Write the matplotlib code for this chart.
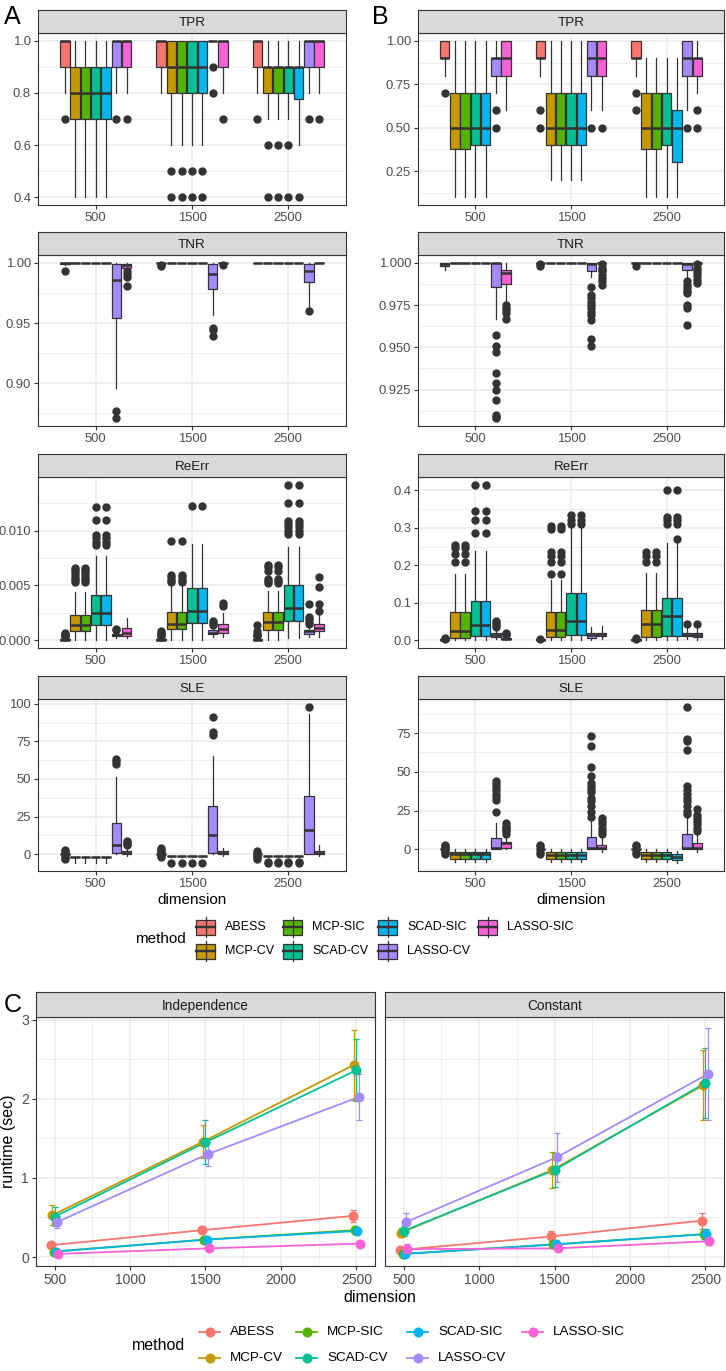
import numpy as np
import matplotlib
matplotlib.use("Agg")
import matplotlib.pyplot as plt
from matplotlib.patches import Rectangle
from matplotlib.lines import Line2D

plt.rcParams['font.family'] = ['Liberation Sans', 'DejaVu Sans']

W, H = 726, 1371

METHODS = ['ABESS', 'MCP-CV', 'MCP-SIC', 'SCAD-CV', 'SCAD-SIC', 'LASSO-CV', 'LASSO-SIC']
COLORS = ['#F8766D', '#C49A00', '#53B400', '#00C094', '#00B6EB', '#A58AFF', '#FB61D7']
DIMS = ['500', '1500', '2500']

# box stats: (whisker low, q1, median, q3, whisker high), per dimension, per method
A_TPR = [
    [(0.8, 0.9, 1.0, 1.0, 1.0), (0.4, 0.7, 0.8, 0.9, 1.0), (0.4, 0.7, 0.8, 0.9, 1.0), (0.4, 0.7, 0.8, 0.9, 1.0),
     (0.4, 0.7, 0.8, 0.9, 1.0), (0.8, 0.9, 1.0, 1.0, 1.0), (0.8, 0.9, 1.0, 1.0, 1.0)],
    [(0.8, 0.9, 1.0, 1.0, 1.0), (0.6, 0.8, 0.9, 1.0, 1.0), (0.6, 0.8, 0.9, 1.0, 1.0), (0.6, 0.8, 0.9, 1.0, 1.0),
     (0.6, 0.8, 0.9, 1.0, 1.0), (1.0, 1.0, 1.0, 1.0, 1.0), (0.8, 0.9, 1.0, 1.0, 1.0)],
    [(0.8, 0.9, 1.0, 1.0, 1.0), (0.7, 0.8, 0.9, 0.9, 1.0), (0.7, 0.8, 0.9, 0.9, 1.0), (0.7, 0.8, 0.9, 0.9, 1.0),
     (0.6, 0.775, 0.9, 0.9, 1.0), (0.8, 0.9, 1.0, 1.0, 1.0), (0.8, 0.9, 1.0, 1.0, 1.0)],
]
A_TPR_OUT = [
    [[0.7], [], [], [], [], [0.7], [0.7]],
    [[], [0.5, 0.4], [0.5, 0.4], [0.5, 0.4], [0.5, 0.4], [0.9, 0.8], [0.7]],
    [[0.7], [0.6, 0.4], [0.6, 0.4], [0.6, 0.4], [0.4], [0.7], [0.7]],
]

B_TPR = [
    [(0.8, 0.9, 0.9, 1.0, 1.0), (0.1, 0.375, 0.5, 0.7, 1.0), (0.1, 0.375, 0.5, 0.7, 1.0), (0.1, 0.4, 0.5, 0.7, 1.0),
     (0.1, 0.4, 0.5, 0.7, 1.0), (0.7, 0.8, 0.9, 0.9, 1.0), (0.6, 0.8, 0.9, 1.0, 1.0)],
    [(0.8, 0.9, 0.9, 1.0, 1.0), (0.2, 0.4, 0.5, 0.7, 1.0), (0.2, 0.4, 0.5, 0.7, 1.0), (0.2, 0.4, 0.5, 0.7, 1.0),
     (0.2, 0.4, 0.5, 0.7, 1.0), (0.6, 0.8, 0.9, 1.0, 1.0), (0.6, 0.8, 0.9, 1.0, 1.0)],
    [(0.8, 0.9, 0.9, 1.0, 1.0), (0.1, 0.375, 0.5, 0.7, 0.9), (0.1, 0.375, 0.5, 0.7, 0.9), (0.1, 0.4, 0.5, 0.7, 0.9),
     (0.1, 0.3, 0.5, 0.6, 0.9), (0.6, 0.8, 0.9, 1.0, 1.0), (0.7, 0.8, 0.9, 0.9, 1.0)],
]
B_TPR_OUT = [
    [[0.7], [], [], [], [], [0.6, 0.5], []],
    [[0.6, 0.5], [], [], [], [], [0.5], [0.5]],
    [[0.7, 0.6], [], [], [], [], [0.5], [0.6, 0.5]],
]

FLAT1 = (1.0, 1.0, 1.0, 1.0, 1.0)
A_TNR = [
    [(0.998, 0.999, 1.0, 1.0, 1.0), FLAT1, FLAT1, FLAT1, FLAT1,
     (0.896, 0.954, 0.986, 0.999, 1.0), (0.995, 0.996, 0.998, 0.999, 1.0)],
    [FLAT1, FLAT1, FLAT1, FLAT1, FLAT1, (0.957, 0.978, 0.991, 0.999, 1.0), FLAT1],
    [FLAT1, FLAT1, FLAT1, FLAT1, FLAT1, (0.963, 0.984, 0.993, 0.999, 1.0), FLAT1],
]
A_TNR_OUT = [
    [[0.993], [], [], [], [], [0.877, 0.871], [0.993, 0.9905, 0.988, 0.981]],
    [[0.998, 0.997], [], [], [], [], [0.946, 0.944, 0.939], [0.998]],
    [[], [], [], [], [], [0.960], []],
]

B_TNR = [
    [(0.996, 0.998, 0.999, 1.0, 1.0), FLAT1, FLAT1, FLAT1, FLAT1,
     (0.967, 0.9855, 1.0, 1.0, 1.0), (0.977, 0.9876, 0.9938, 0.9957, 1.0)],
    [FLAT1, FLAT1, FLAT1, FLAT1, FLAT1, (0.9915, 0.995, 0.9992, 1.0, 1.0), FLAT1],
    [FLAT1, FLAT1, FLAT1, FLAT1, FLAT1, (0.991, 0.996, 0.9995, 1.0, 1.0), FLAT1],
]
B_TNR_OUT = [
    [[], [], [], [], [],
     [0.957, 0.951, 0.947, 0.935, 0.929, 0.925, 0.919, 0.910, 0.909, 0.908],
     [0.975, 0.973, 0.972, 0.970, 0.967]],
    [[0.999, 0.998], [], [], [], [],
     [0.9855, 0.981, 0.979, 0.977, 0.975, 0.973, 0.971, 0.969, 0.966, 0.955, 0.951],
     [0.999, 0.997, 0.996, 0.995, 0.993, 0.991, 0.989, 0.987]],
    [[0.998], [], [], [], [],
     [0.989, 0.987, 0.985, 0.983, 0.982, 0.975, 0.973, 0.963],
     [0.999, 0.997, 0.996, 0.994, 0.992, 0.990, 0.988]],
]

A_REERR = [
    [(0, 0, 0.00005, 0.0001, 0.0002), (0, 0.0008, 0.0014, 0.0023, 0.0044), (0, 0.0008, 0.0014, 0.0023, 0.0044),
     (0, 0.0014, 0.0025, 0.0041, 0.0077), (0, 0.0014, 0.0025, 0.0041, 0.0077),
     (0.0002, 0.0004, 0.0005, 0.0006, 0.0008), (0.0002, 0.0004, 0.0007, 0.0011, 0.0020)],
    [(0, 0, 0.00005, 0.0001, 0.0002), (0, 0.0010, 0.0015, 0.0026, 0.0050), (0, 0.0010, 0.0015, 0.0026, 0.0050),
     (0, 0.0016, 0.0027, 0.0048, 0.0088), (0, 0.0016, 0.0027, 0.0048, 0.0088),
     (0.0003, 0.0006, 0.0007, 0.0009, 0.0012), (0.0003, 0.0007, 0.0010, 0.0015, 0.0025)],
    [(0, 0, 0.00005, 0.0001, 0.0002), (0, 0.0009, 0.0017, 0.0026, 0.0045), (0, 0.0009, 0.0017, 0.0026, 0.0045),
     (0.0002, 0.0018, 0.0029, 0.0050, 0.0085), (0.0002, 0.0018, 0.0029, 0.0050, 0.0085),
     (0.0003, 0.0006, 0.0008, 0.0009, 0.0013), (0.0003, 0.0008, 0.0011, 0.0015, 0.0024)],
]
A_REERR_OUT = [
    [[0.0003, 0.0004, 0.0005, 0.0006, 0.0007],
     [0.0053, 0.0055, 0.0057, 0.0060, 0.0062, 0.0064, 0.0066],
     [0.0053, 0.0055, 0.0057, 0.0060, 0.0062, 0.0064, 0.0066],
     [0.0087, 0.0090, 0.0093, 0.0096, 0.0110, 0.0122],
     [0.0087, 0.0090, 0.0093, 0.0096, 0.0110, 0.0122],
     [0.0009, 0.0010], []],
    [[0.0003, 0.0005, 0.0006, 0.0007, 0.0008],
     [0.0053, 0.0055, 0.0058, 0.0060, 0.0091],
     [0.0053, 0.0055, 0.0058, 0.0060, 0.0091],
     [0.0123], [0.0123],
     [0.0014, 0.0016, 0.0018], [0.0031, 0.0034]],
    [[0.0004, 0.0005, 0.0006, 0.0008, 0.0014],
     [0.0052, 0.0054, 0.0056, 0.0063, 0.0067, 0.0069],
     [0.0052, 0.0054, 0.0056, 0.0063, 0.0067, 0.0069],
     [0.0097, 0.0100, 0.0103, 0.0106, 0.0109, 0.0125, 0.0142],
     [0.0097, 0.0100, 0.0103, 0.0106, 0.0109, 0.0125, 0.0142],
     [0.0015, 0.0017, 0.0019, 0.0021, 0.0033], [0.0027, 0.0033, 0.0049, 0.0058]],
]

B_REERR = [
    [(0, 0, 0.001, 0.002, 0.003), (0, 0.005, 0.025, 0.076, 0.177), (0, 0.005, 0.025, 0.076, 0.177),
     (0, 0.010, 0.040, 0.105, 0.238), (0, 0.010, 0.040, 0.105, 0.238),
     (0.002, 0.008, 0.013, 0.018, 0.030), (0, 0.002, 0.004, 0.006, 0.012)],
    [(0, 0, 0.001, 0.002, 0.003), (0, 0.008, 0.027, 0.075, 0.160), (0, 0.008, 0.027, 0.075, 0.160),
     (0, 0.013, 0.050, 0.127, 0.300), (0, 0.013, 0.050, 0.127, 0.300),
     (0, 0.007, 0.013, 0.018, 0.035), (0.003, 0.010, 0.016, 0.020, 0.037)],
    [(0, 0, 0.001, 0.002, 0.003), (0, 0.008, 0.042, 0.080, 0.180), (0, 0.008, 0.042, 0.080, 0.180),
     (0, 0.012, 0.064, 0.113, 0.260), (0, 0.012, 0.064, 0.113, 0.260),
     (0.002, 0.010, 0.015, 0.020, 0.035), (0, 0.008, 0.014, 0.020, 0.033)],
]
B_REERR_OUT = [
    [[0.004, 0.005], [0.21, 0.23, 0.245, 0.255], [0.21, 0.23, 0.245, 0.255],
     [0.287, 0.32, 0.345, 0.415], [0.287, 0.32, 0.345, 0.415],
     [0.035, 0.040, 0.045, 0.050], [0.013, 0.016, 0.019]],
    [[0.004], [0.178, 0.21, 0.225, 0.235, 0.298, 0.305], [0.178, 0.21, 0.225, 0.235, 0.298, 0.305],
     [0.31, 0.32, 0.335], [0.31, 0.32, 0.335], [], []],
    [[0.004, 0.006], [0.21, 0.225, 0.235], [0.21, 0.225, 0.235],
     [0.31, 0.32, 0.33, 0.40], [0.27, 0.31, 0.32, 0.33, 0.40], [0.042], [0.042]],
]

FLAT0 = (0, 0, 0, 0, 0)
A_SLE = [
    [FLAT0, (-6, -2, -2, -2, -2), (-6, -2, -2, -2, -2), (-6, -2, -2, -2, -2), (-6, -2, -2, -2, -2),
     (0, 1, 6, 21, 51), (-1, 0, 1, 2, 5)],
    [FLAT0, (-2, -1, -1, -1, -1), (-2, -1, -1, -1, -1), (-2, -1, -1, -1, -1), (-2, -1, -1, -1, -1),
     (0, 1, 13, 32, 65), (-1, 0, 1, 2, 4)],
    [FLAT0, (-2, -1, -1, -1, -1), (-2, -1, -1, -1, -1), (-2, -1, -1, -1, -1), (-2, -1, -1, -1, -1),
     (0, 0, 16, 39, 93), (-1, 0, 1, 2, 6)],
]
A_SLE_OUT = [
    [[-3.5, -2.5, -1.5, 1, 2, 3], [], [], [], [], [60, 62, 63], [6, 7, 8, 9]],
    [[-2, -1, 1, 2, 3, 4], [-6], [-6], [-6], [-6], [79, 81, 91], []],
    [[-3, -2, -1, 1, 2], [-6, -5], [-6, -5], [-6, -5], [-6, -5], [98], []],
]

B_SLE = [
    [FLAT0, (-8, -6, -3, -2, 0), (-8, -6, -3, -2, 0), (-8, -6, -3, -2, 0), (-8, -6, -3, -2, 0),
     (0, 0, 0.5, 7, 17), (0, 1, 4, 5, 8)],
    [FLAT0, (-8, -6, -4, -2, 0), (-8, -6, -4, -2, 0), (-8, -6, -4, -2, 0), (-8, -6, -4, -2, 0),
     (0, 0, 1, 8, 19), (-2, 0, 1, 3, 8)],
    [FLAT0, (-8, -6, -4, -2, 0), (-8, -6, -4, -2, 0), (-8, -6, -4, -2, 0), (-9, -7, -5, -3, -1),
     (0, 0, 1, 10, 22), (-2, 0, 1, 4, 10)],
]
B_SLE_OUT = [
    [[-3, -2, -1, 1, 2, 3], [], [], [], [], [24, 32, 34, 36, 38, 40, 42, 44], [10, 12, 13, 14, 15, 17]],
    [[-3, -2, 2, 3], [], [], [], [], [21, 24, 28, 31, 33, 37, 39, 41, 43, 47, 53, 67, 73],
     [10, 12, 14, 16, 18, 20]],
    [[-3, -2, 2, 3], [], [], [], [], [23, 25, 28, 31, 33, 36, 38, 41, 64, 70, 71, 92],
     [12, 14, 16, 18, 20, 22, 26]],
]

# y ticks / labels per facet
A_TICKS = [[0.4, 0.6, 0.8, 1.0], [0.90, 0.95, 1.00], [0.0, 0.005, 0.010], [0, 25, 50, 75, 100]]
A_LABELS = [['0.4', '0.6', '0.8', '1.0'], ['0.90', '0.95', '1.00'], ['0.000', '0.005', '0.010'],
            ['0', '25', '50', '75', '100']]
B_TICKS = [[0.25, 0.50, 0.75, 1.00], [0.925, 0.950, 0.975, 1.000], [0.0, 0.1, 0.2, 0.3, 0.4], [0, 25, 50, 75]]
B_LABELS = [['0.25', '0.50', '0.75', '1.00'], ['0.925', '0.950', '0.975', '1.000'],
            ['0.0', '0.1', '0.2', '0.3', '0.4'], ['0', '25', '50', '75']]
METRICS = ['TPR', 'TNR', 'ReErr', 'SLE']

# panel C: runtime mean and error half-width, per method, at dimensions 500/1500/2500
DIM_C = [500, 1500, 2500]
IND_MEAN = [[0.15, 0.34, 0.52], [0.53, 1.46, 2.43], [0.07, 0.22, 0.34], [0.51, 1.45, 2.36],
            [0.07, 0.22, 0.33], [0.44, 1.30, 2.02], [0.04, 0.11, 0.17]]
IND_ERR = [[0.02, 0.05, 0.08], [0.13, 0.21, 0.44], [0.02, 0.03, 0.05], [0.12, 0.28, 0.39],
           [0.02, 0.03, 0.04], [0.07, 0.15, 0.29], [0.01, 0.02, 0.02]]
CON_MEAN = [[0.09, 0.26, 0.46], [0.31, 1.10, 2.17], [0.04, 0.16, 0.29], [0.33, 1.10, 2.20],
            [0.04, 0.16, 0.29], [0.44, 1.26, 2.31], [0.10, 0.11, 0.20]]
CON_ERR = [[0.02, 0.07, 0.10], [0.06, 0.23, 0.44], [0.01, 0.03, 0.06], [0.06, 0.21, 0.44],
           [0.01, 0.03, 0.07], [0.12, 0.31, 0.58], [0.06, 0.02, 0.05]]

EDGE = '#333333'
GRID = '#EBEBEB'
TXT = '#4D4D4D'
BOX_STEP = 0.75 / 7
BOX_W = 0.098
DODGE_C = 50 / 7


def pos(x0, y0, x1, y1):
    return [x0 / W, 1 - y1 / H, (x1 - x0) / W, (y1 - y0) / H]


def add_strip(fig, x0, x1, y0, y1, label, size):
    sax = fig.add_axes(pos(x0, y0, x1, y1))
    sax.set_facecolor('#D9D9D9')
    sax.set_xticks([])
    sax.set_yticks([])
    for sp in sax.spines.values():
        sp.set_color(EDGE)
        sp.set_linewidth(0.8)
    sax.text(0.5, 0.45, label, ha='center', va='center', fontsize=size,
             color='#1A1A1A', transform=sax.transAxes)


def style_axes(ax, size):
    ax.set_facecolor('white')
    for sp in ax.spines.values():
        sp.set_color(EDGE)
        sp.set_linewidth(0.8)
    ax.tick_params(which='major', length=3, width=0.8, color=EDGE,
                   labelcolor=TXT, labelsize=size, pad=2)
    ax.tick_params(which='minor', length=0)
    ax.grid(which='major', color=GRID, linewidth=1.1)
    ax.grid(which='minor', color=GRID, linewidth=0.55)
    ax.set_axisbelow(True)


def minor_between(ticks, lo, hi):
    step = ticks[1] - ticks[0]
    cand = np.arange(ticks[0] - step / 2, ticks[-1] + step, step)
    return [c for c in cand if lo <= c <= hi]


def draw_box_facet(ax, stats, fliers, ticks, labels):
    vals = []
    for d in range(3):
        for k in range(7):
            lo, q1, med, q3, hi = stats[d][k]
            vals += [lo, hi] + list(fliers[d][k])
            s = dict(whislo=lo, q1=q1, med=med, q3=q3, whishi=hi,
                     fliers=np.array(fliers[d][k], dtype=float))
            p = d + 1 + (k - 3) * BOX_STEP
            ax.bxp([s], positions=[p], widths=BOX_W, patch_artist=True,
                   showcaps=False, manage_ticks=False,
                   boxprops=dict(facecolor=COLORS[k], edgecolor=EDGE, linewidth=0.9),
                   medianprops=dict(color=EDGE, linewidth=1.8, solid_capstyle='butt'),
                   whiskerprops=dict(color=EDGE, linewidth=0.9),
                   flierprops=dict(marker='o', markerfacecolor=EDGE, markeredgecolor=EDGE,
                                   markersize=5.0, linestyle='none'))
    lo, hi = min(vals), max(vals)
    pad = 0.05 * (hi - lo)
    ax.set_ylim(lo - pad, hi + pad)
    ax.set_xlim(0.4, 3.6)
    ax.set_xticks([1, 2, 3])
    ax.set_xticklabels(DIMS)
    ax.set_yticks(ticks)
    ax.set_yticklabels(labels)
    ax.set_yticks(minor_between(ticks, lo - pad, hi + pad), minor=True)
    style_axes(ax, 9.4)


fig = plt.figure(figsize=(W / 100, H / 100), dpi=100)

ROW_TOP = [33, 255, 477, 699]
ROW_BOT = [205, 426, 648, 871]
STRIP_H = 23
PANELS = [
    (38, 346, [A_TPR, A_TNR, A_REERR, A_SLE], [A_TPR_OUT, A_TNR_OUT, A_REERR_OUT, A_SLE_OUT],
     A_TICKS, A_LABELS),
    (418, 724, [B_TPR, B_TNR, B_REERR, B_SLE], [B_TPR_OUT, B_TNR_OUT, B_REERR_OUT, B_SLE_OUT],
     B_TICKS, B_LABELS),
]
for x0, x1, all_stats, all_out, all_ticks, all_labels in PANELS:
    for r in range(4):
        ax = fig.add_axes(pos(x0, ROW_TOP[r], x1, ROW_BOT[r]))
        draw_box_facet(ax, all_stats[r], all_out[r], all_ticks[r], all_labels[r])
        add_strip(fig, x0, x1, ROW_TOP[r] - STRIP_H, ROW_TOP[r], METRICS[r], 9.6)
    fig.text(((x0 + x1) / 2) / W, 1 - 900 / H, 'dimension', ha='center', va='center',
             fontsize=11, color='black')

# panel C
C_FACETS = [('Independence', IND_MEAN, IND_ERR, 36, 375), ('Constant', CON_MEAN, CON_ERR, 385, 724)]
all_pos = [d + (k - 3) * DODGE_C for d in DIM_C for k in range(7)]
xpad = 0.05 * (max(all_pos) - min(all_pos))
ylo = min(min(np.array(m) - np.array(e)) for _, mm, ee, _, _ in C_FACETS for m, e in zip(mm, ee))
yhi = max(max(np.array(m) + np.array(e)) for _, mm, ee, _, _ in C_FACETS for m, e in zip(mm, ee))
ypad = 0.05 * (yhi - ylo)
for f, (name, means, errs, x0, x1) in enumerate(C_FACETS):
    ax = fig.add_axes(pos(x0, 1017, x1, 1266))
    for k in range(7):
        xs = np.array(DIM_C) + (k - 3) * DODGE_C
        ax.plot(xs, means[k], color=COLORS[k], lw=1.3, zorder=2)
        ax.errorbar(xs, means[k], yerr=errs[k], fmt='o', color=COLORS[k], ms=6.2,
                    elinewidth=0.9, capsize=2, capthick=0.9, zorder=3)
    ax.set_xlim(min(all_pos) - xpad, max(all_pos) + xpad)
    ax.set_ylim(ylo - ypad, yhi + ypad)
    ax.set_xticks([500, 1000, 1500, 2000, 2500])
    ax.set_xticks([750, 1250, 1750, 2250], minor=True)
    ax.set_yticks([0, 1, 2, 3])
    ax.set_yticks([0.5, 1.5, 2.5], minor=True)
    style_axes(ax, 10)
    if f == 1:
        ax.tick_params(axis='y', which='major', length=0, labelleft=False)
    add_strip(fig, x0, x1, 992, 1017, name, 9.8)

fig.text(380 / W, 1 - 1298 / H, 'dimension', ha='center', va='center', fontsize=11.5)
fig.text(9 / W, 1 - 1141 / H, 'runtime (sec)', ha='center', va='center', rotation=90, fontsize=11.5)

# panel letters
fig.text(4 / W, 1 - 17 / H, 'A', ha='left', va='center', fontsize=18)
fig.text(372 / W, 1 - 17 / H, 'B', ha='left', va='center', fontsize=18)
fig.text(4 / W, 1 - 1005 / H, 'C', ha='left', va='center', fontsize=18)

# legends drawn in a pixel-coordinate overlay
lax = fig.add_axes([0, 0, 1, 1])
lax.set_xlim(0, W)
lax.set_ylim(H, 0)
lax.axis('off')

BOX_KEY_X = [196, 283, 378, 478]
BOX_KEY_Y = [927, 951]
lax.text(135, 939, 'method', ha='left', va='center', fontsize=11)
for k, m in enumerate(METHODS):
    kx = BOX_KEY_X[k // 2]
    ky = BOX_KEY_Y[k % 2]
    lax.plot([kx + 9.5, kx + 9.5], [ky - 10, ky + 10], color=EDGE, lw=0.9)
    lax.add_patch(Rectangle((kx, ky - 7.5), 19, 15, facecolor=COLORS[k], edgecolor=EDGE, lw=0.9))
    lax.plot([kx, kx + 19], [ky, ky], color=EDGE, lw=1.7)
    lax.text(kx + 29, ky, m, ha='left', va='center', fontsize=9)

LINE_KEY_X = [199, 296, 407, 522]
LINE_KEY_Y = [1332, 1358]
lax.text(132, 1345, 'method', ha='left', va='center', fontsize=11.5)
for k, m in enumerate(METHODS):
    kx = LINE_KEY_X[k // 2]
    ky = LINE_KEY_Y[k % 2]
    lax.add_line(Line2D([kx, kx + 21], [ky, ky], color=COLORS[k], lw=1.3))
    lax.plot([kx + 10.5], [ky], 'o', color=COLORS[k], ms=6.2)
    lax.text(kx + 31, ky, m, ha='left', va='center', fontsize=9.7)

fig.savefig('out.png', dpi=100)
